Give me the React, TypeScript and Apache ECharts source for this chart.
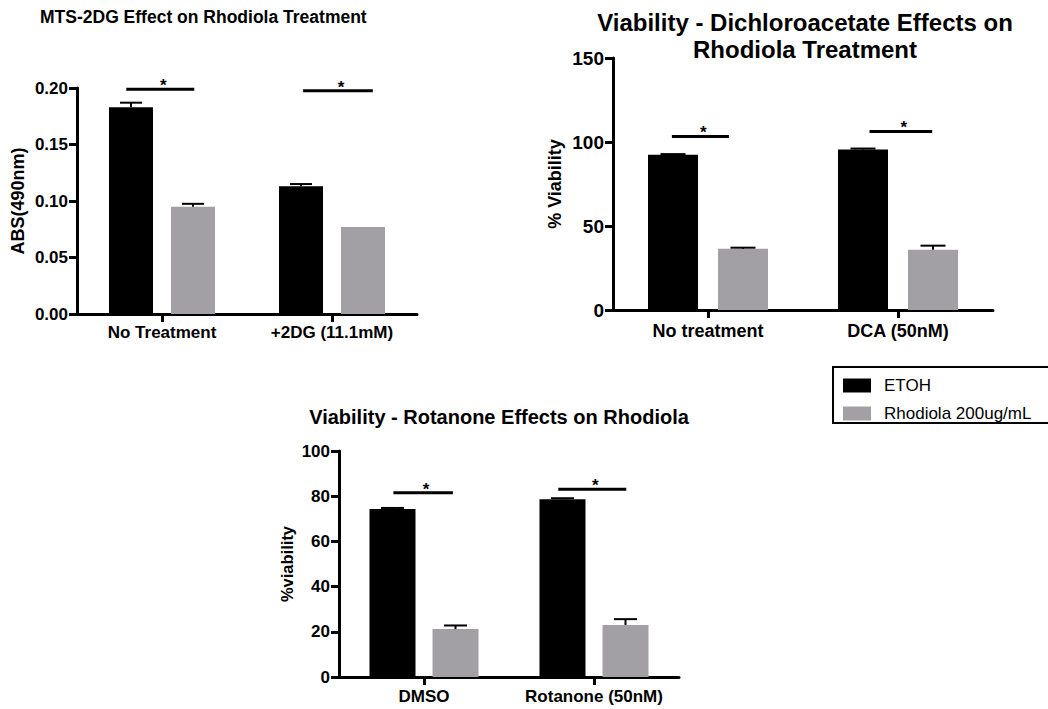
import React, { useEffect, useRef } from "react";
import * as echarts from "echarts";

// ---------- DATA ----------
const seriesNames = ["ETOH", "Rhodiola 200ug/mL"];

// Chart 1: MTS-2DG
const cats1 = ["No Treatment", "+2DG (11.1mM)"];
const etoh1 = [0.183, 0.113];
const rhod1 = [0.095, 0.077];
const etohErr1 = [0.004, 0.002];
const rhodErr1 = [0.0025, 0];
const sig1 = [0.199, 0.1976];
const yTicks1 = [0, 0.2, 0.05];

// Chart 2: Dichloroacetate
const cats2 = ["No treatment", "DCA (50nM)"];
const etoh2 = [92.4, 95.5];
const rhod2 = [36.5, 35.8];
const etohErr2 = [0.4, 0.6];
const rhodErr2 = [0.6, 2.5];
const sig2 = [103.3, 106.3];
const yTicks2 = [0, 150, 50];

// Chart 3: Rotanone
const cats3 = ["DMSO", "Rotanone (50nM)"];
const etoh3 = [74.3, 78.6];
const rhod3 = [21.2, 23.0];
const etohErr3 = [0.5, 0.5];
const rhodErr3 = [1.6, 2.6];
const sig3 = [81.5, 83.1];
const yTicks3 = [0, 100, 20];

// ---------- LAYOUT / STYLE ----------
const FONT = "'Liberation Sans', Arial, Helvetica, sans-serif";
const BLACK = "#000000";
const GRAY = "#a2a0a5";

type PanelLayout = {
  grid: { left: number; top: number; width: number; height: number };
  barWidth: number;
  barGapPx: number;
  tickFont: number;
  catFont: number;
  catMargin: number;
  nameFont: number;
  nameGap: number;
  yName: string;
  sigSpan: number[][];
  decimals: number;
};

const panels: PanelLayout[] = [
  {
    grid: { left: 77, top: 88, width: 340, height: 226 },
    barWidth: 44,
    barGapPx: 18,
    tickFont: 17,
    catFont: 17,
    catMargin: 10,
    nameFont: 18,
    nameGap: 50,
    yName: "ABS(490nm)",
    sigSpan: [
      [-0.21, 0.19],
      [-0.17, 0.24],
    ],
    decimals: 2,
  },
  {
    grid: { left: 613, top: 58, width: 380, height: 252 },
    barWidth: 50,
    barGapPx: 20,
    tickFont: 19,
    catFont: 18,
    catMargin: 12,
    nameFont: 18,
    nameGap: 49,
    yName: "% Viability",
    sigSpan: [
      [-0.19, 0.11],
      [-0.15, 0.18],
    ],
    decimals: 0,
  },
  {
    grid: { left: 339, top: 451, width: 340, height: 226 },
    barWidth: 46,
    barGapPx: 17,
    tickFont: 17,
    catFont: 17,
    catMargin: 11,
    nameFont: 16.5,
    nameGap: 44,
    yName: "%viability",
    sigSpan: [
      [-0.18, 0.17],
      [-0.21, 0.19],
    ],
    decimals: 0,
  },
];

const panelData = [
  { cats: cats1, etoh: etoh1, rhod: rhod1, etohErr: etohErr1, rhodErr: rhodErr1, sig: sig1, ticks: yTicks1 },
  { cats: cats2, etoh: etoh2, rhod: rhod2, etohErr: etohErr2, rhodErr: rhodErr2, sig: sig2, ticks: yTicks2 },
  { cats: cats3, etoh: etoh3, rhod: rhod3, etohErr: etohErr3, rhodErr: rhodErr3, sig: sig3, ticks: yTicks3 },
];

function buildOption() {
  const grids: any[] = [];
  const xAxes: any[] = [];
  const yAxes: any[] = [];
  const series: any[] = [];

  panels.forEach((p, i) => {
    const d = panelData[i];
    grids.push({ ...p.grid, containLabel: false, outerBoundsMode: "none" });
    xAxes.push({
      type: "category",
      gridIndex: i,
      data: d.cats,
      boundaryGap: true,
      axisLine: { show: true, lineStyle: { color: BLACK, width: 3 } },
      axisTick: { show: true, alignWithLabel: true, length: 8, lineStyle: { color: BLACK, width: 3 } },
      axisLabel: {
        color: BLACK,
        fontFamily: FONT,
        fontWeight: "bold",
        fontSize: p.catFont,
        margin: p.catMargin,
        interval: 0,
      },
      splitLine: { show: false },
    });
    yAxes.push({
      type: "value",
      gridIndex: i,
      min: d.ticks[0],
      max: d.ticks[1],
      interval: d.ticks[2],
      name: p.yName,
      nameLocation: "middle",
      nameGap: p.nameGap,
      nameRotate: 90,
      nameTextStyle: { color: BLACK, fontFamily: FONT, fontWeight: "bold", fontSize: p.nameFont },
      axisLine: { show: true, lineStyle: { color: BLACK, width: 3 } },
      axisTick: { show: true, length: 8, lineStyle: { color: BLACK, width: 3 } },
      axisLabel: {
        color: BLACK,
        fontFamily: FONT,
        fontWeight: "bold",
        fontSize: p.tickFont,
        margin: 9,
        formatter: (v: number) => v.toFixed(p.decimals),
      },
      splitLine: { show: false },
    });

    const gapPct = ((p.barGapPx / p.barWidth) * 100).toFixed(1) + "%";
    series.push({
      type: "bar",
      name: seriesNames[0],
      xAxisIndex: i,
      yAxisIndex: i,
      data: d.etoh,
      barWidth: p.barWidth,
      barGap: gapPct,
      itemStyle: { color: BLACK },
      z: 2,
    });
    series.push({
      type: "bar",
      name: seriesNames[1],
      xAxisIndex: i,
      yAxisIndex: i,
      data: d.rhod,
      barWidth: p.barWidth,
      barGap: gapPct,
      itemStyle: { color: GRAY },
      z: 2,
    });

    const half = (p.barWidth + p.barGapPx) / 2;
    const makeErr = (means: number[], errs: number[], offset: number) => ({
      type: "custom",
      xAxisIndex: i,
      yAxisIndex: i,
      silent: true,
      z: 3,
      data: means.map((m, k) => [k, m, errs[k]]),
      renderItem: (params: any, api: any) => {
        const cat = api.value(0);
        const mean = api.value(1);
        const err = api.value(2);
        if (!err) return null;
        const base = api.coord([cat, mean]);
        const top = api.coord([cat, mean + err]);
        const x = base[0] + offset;
        const cap = p.barWidth / 2;
        return {
          type: "group",
          children: [
            { type: "line", shape: { x1: x, y1: base[1], x2: x, y2: top[1] }, style: { stroke: BLACK, lineWidth: 2 } },
            { type: "line", shape: { x1: x - cap / 2, y1: top[1], x2: x + cap / 2, y2: top[1] }, style: { stroke: BLACK, lineWidth: 2 } },
          ],
        };
      },
    });
    series.push(makeErr(d.etoh, d.etohErr, -half));
    series.push(makeErr(d.rhod, d.rhodErr, half));

    series.push({
      type: "custom",
      xAxisIndex: i,
      yAxisIndex: i,
      silent: true,
      z: 4,
      data: d.sig.map((y, k) => [k, y]),
      renderItem: (params: any, api: any) => {
        const cat = api.value(0);
        const y = api.value(1);
        const c = api.coord([cat, y]);
        const cw = api.size([1, 0])[0];
        const span = p.sigSpan[params.dataIndex];
        const x1 = c[0] + span[0] * cw;
        const x2 = c[0] + span[1] * cw;
        return {
          type: "group",
          children: [
            { type: "line", shape: { x1, y1: c[1], x2, y2: c[1] }, style: { stroke: BLACK, lineWidth: 3 } },
            {
              type: "text",
              x: (x1 + x2) / 2 + 3,
              y: c[1] + 5,
              style: {
                text: "*",
                fill: BLACK,
                font: `bold 17px ${FONT}`,
                textAlign: "center",
                textVerticalAlign: "bottom",
              },
            },
          ],
        };
      },
    });
  });

  return {
    animation: false,
    backgroundColor: "#ffffff",
    title: [
      {
        text: "MTS-2DG Effect on Rhodiola Treatment",
        left: 40,
        top: 8,
        padding: 0,
        textStyle: { color: BLACK, fontFamily: FONT, fontWeight: "bold", fontSize: 17.5 },
      },
      {
        text: "Viability - Dichloroacetate Effects on\nRhodiola Treatment",
        left: 805,
        top: 9,
        padding: 0,
        textAlign: "center",
        textStyle: { color: BLACK, fontFamily: FONT, fontWeight: "bold", fontSize: 24, lineHeight: 27, align: "center" },
      },
      {
        text: "Viability - Rotanone Effects on Rhodiola",
        left: 499,
        top: 407,
        padding: 0,
        textAlign: "center",
        textStyle: { color: BLACK, fontFamily: FONT, fontWeight: "bold", fontSize: 20 },
      },
    ],
    legend: {
      data: seriesNames,
      orient: "vertical",
      left: 833,
      top: 367,
      padding: [10, 10, 5, 10],
      itemWidth: 28,
      itemHeight: 14,
      itemGap: 11,
      icon: "rect",
      selectedMode: false,
      textStyle: { color: BLACK, fontFamily: FONT, fontSize: 17, padding: [0, 0, 0, 8] },
    },
    graphic: [
      {
        type: "rect",
        x: 833,
        y: 367,
        shape: { x: 0, y: 0, width: 260, height: 56 },
        style: { fill: "none", stroke: BLACK, lineWidth: 2 },
        silent: true,
        z: 10,
      },
    ],
    grid: grids,
    xAxis: xAxes,
    yAxis: yAxes,
    series,
  };
}

export default function App() {
  const ref = useRef<HTMLDivElement>(null);
  useEffect(() => {
    document.body.style.margin = "0";
    if (!ref.current) return;
    const chart = echarts.init(ref.current, undefined, { renderer: "svg" });
    chart.setOption(buildOption() as any);
    return () => chart.dispose();
  }, []);
  return <div ref={ref} style={{ width: 1048, height: 709, background: "#fff" }} />;
}
